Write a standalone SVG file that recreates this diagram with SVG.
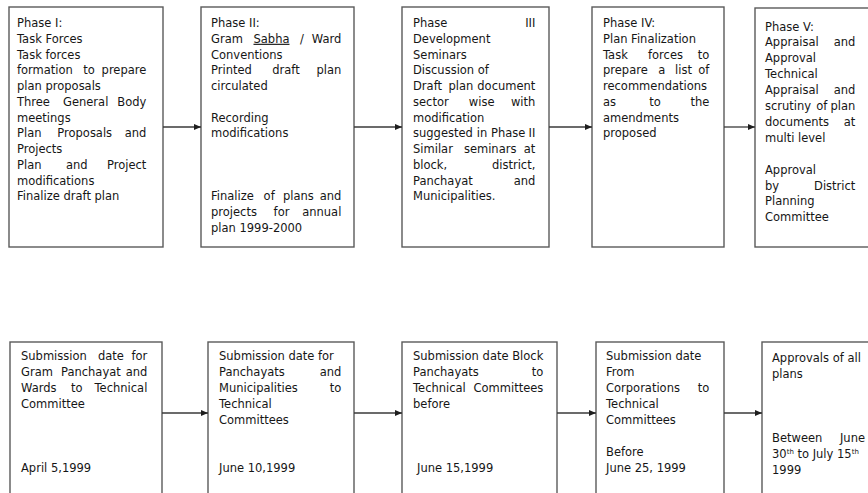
<svg xmlns="http://www.w3.org/2000/svg" width="868" height="493" viewBox="0 0 868 493">
  <style>
    .box { fill: #ffffff; stroke: #5a5a5a; stroke-width: 1.4; }
    .t { font-family: "DejaVu Sans", Verdana, sans-serif; font-size: 11.5px; fill: #161616; }
    .e { text-anchor: end; }
    .u { text-decoration: underline; }
    .sup { font-size: 7px; }
    .conn { stroke: #3a3a3a; stroke-width: 1.3; fill: none; marker-end: url(#arrow); }
  </style>
  <defs>
    <marker id="arrow" markerUnits="userSpaceOnUse" markerWidth="8" markerHeight="8" refX="7" refY="4" orient="auto">
      <path d="M0,1 L7,4 L0,7 Z" fill="#1e1e1e"/>
    </marker>
  </defs>
  <rect width="868" height="493" fill="#ffffff"/>

  <!-- Upper row: planning phases -->
  <g id="phase1">
    <rect class="box" x="9" y="7" width="154" height="240"/>
    <text class="t">
      <tspan x="17" y="27">Phase I:</tspan>
      <tspan x="17" y="42.75">Task Forces</tspan>
      <tspan x="17" y="58.5">Task forces</tspan>
      <tspan x="17" y="74.25">formation</tspan><tspan x="83.2" y="74.25">to</tspan><tspan class="e" x="150" y="74.25">prepare</tspan>
      <tspan x="17" y="90">plan proposals</tspan>
      <tspan x="17" y="105.75">Three</tspan><tspan x="63" y="105.75">General</tspan><tspan class="e" x="150" y="105.75">Body</tspan>
      <tspan x="17" y="121.5">meetings</tspan>
      <tspan x="17" y="137.25">Plan</tspan><tspan x="57.3" y="137.25">Proposals</tspan><tspan class="e" x="150" y="137.25">and</tspan>
      <tspan x="17" y="153">Projects</tspan>
      <tspan x="17" y="168.75">Plan</tspan><tspan x="66" y="168.75">and</tspan><tspan class="e" x="150" y="168.75">Project</tspan>
      <tspan x="17" y="184.5">modifications</tspan>
      <tspan x="17" y="200.25">Finalize draft plan</tspan>
    </text>
  </g>

  <g id="phase2">
    <rect class="box" x="201" y="7" width="153" height="240"/>
    <text class="t">
      <tspan x="211" y="27">Phase II:</tspan>
      <tspan x="211" y="42.75">Gram</tspan><tspan class="u" x="253.5" y="42.75">Sabha</tspan><tspan x="300" y="42.75">/</tspan><tspan class="e" x="345" y="42.75">Ward</tspan>
      <tspan x="211" y="58.5">Conventions</tspan>
      <tspan x="211" y="74.25">Printed</tspan><tspan x="272.3" y="74.25">draft</tspan><tspan class="e" x="345" y="74.25">plan</tspan>
      <tspan x="211" y="90">circulated</tspan>
      <tspan x="211" y="121.5">Recording</tspan>
      <tspan x="211" y="137.25">modifications</tspan>
      <tspan x="211" y="200.25">Finalize</tspan><tspan x="263.6" y="200.25">of</tspan><tspan x="283" y="200.25">plans</tspan><tspan class="e" x="345" y="200.25">and</tspan>
      <tspan x="211" y="216">projects</tspan><tspan x="273.6" y="216">for</tspan><tspan class="e" x="345" y="216">annual</tspan>
      <tspan x="211" y="231.75">plan 1999-2000</tspan>
    </text>
  </g>

  <g id="phase3">
    <rect class="box" x="402" y="7" width="147" height="240"/>
    <text class="t">
      <tspan x="413" y="27">Phase</tspan><tspan class="e" x="539" y="27">III</tspan>
      <tspan x="413" y="42.75">Development</tspan>
      <tspan x="413" y="58.5">Seminars</tspan>
      <tspan x="413" y="74.25">Discussion of</tspan>
      <tspan x="413" y="90">Draft</tspan><tspan x="448.5" y="90">plan</tspan><tspan class="e" x="539" y="90">document</tspan>
      <tspan x="413" y="105.75">sector</tspan><tspan x="468.8" y="105.75">wise</tspan><tspan class="e" x="539" y="105.75">with</tspan>
      <tspan x="413" y="121.5">modification</tspan>
      <tspan x="413" y="137.25">suggested</tspan><tspan x="476.8" y="137.25">in</tspan><tspan x="491" y="137.25">Phase</tspan><tspan class="e" x="539" y="137.25">II</tspan>
      <tspan x="413" y="153">Similar</tspan><tspan x="463.9" y="153">seminars</tspan><tspan class="e" x="539" y="153">at</tspan>
      <tspan x="413" y="168.75">block,</tspan><tspan class="e" x="539" y="168.75">district,</tspan>
      <tspan x="413" y="184.5">Panchayat</tspan><tspan class="e" x="539" y="184.5">and</tspan>
      <tspan x="413" y="200.25">Municipalities.</tspan>
    </text>
  </g>

  <g id="phase4">
    <rect class="box" x="592" y="7" width="132" height="240"/>
    <text class="t">
      <tspan x="603" y="27">Phase IV:</tspan>
      <tspan x="603" y="42.75">Plan Finalization</tspan>
      <tspan x="603" y="58.5">Task</tspan><tspan x="648" y="58.5">forces</tspan><tspan class="e" x="713" y="58.5">to</tspan>
      <tspan x="603" y="74.25">prepare</tspan><tspan x="658.2" y="74.25">a</tspan><tspan x="675.1" y="74.25">list</tspan><tspan class="e" x="713" y="74.25">of</tspan>
      <tspan x="603" y="90">recommendations</tspan>
      <tspan x="603" y="105.75">as</tspan><tspan x="649.3" y="105.75">to</tspan><tspan class="e" x="713" y="105.75">the</tspan>
      <tspan x="603" y="121.5">amendments</tspan>
      <tspan x="603" y="137.25">proposed</tspan>
    </text>
  </g>

  <g id="phase5">
    <rect class="box" x="755" y="8" width="130" height="239"/>
    <text class="t">
      <tspan x="765" y="30.5">Phase V:</tspan>
      <tspan x="765" y="46.4">Appraisal</tspan><tspan class="e" x="859" y="46.4">and</tspan>
      <tspan x="765" y="62.3">Approval</tspan>
      <tspan x="765" y="78.2">Technical</tspan>
      <tspan x="765" y="94.1">Appraisal</tspan><tspan class="e" x="859" y="94.1">and</tspan>
      <tspan x="765" y="110">scrutiny</tspan><tspan x="816.3" y="110">of</tspan><tspan class="e" x="859" y="110">plan</tspan>
      <tspan x="765" y="125.9">documents</tspan><tspan class="e" x="859" y="125.9">at</tspan>
      <tspan x="765" y="141.8">multi level</tspan>
      <tspan x="765" y="173.6">Approval</tspan>
      <tspan x="765" y="189.5">by</tspan><tspan class="e" x="859" y="189.5">District</tspan>
      <tspan x="765" y="205.4">Planning</tspan>
      <tspan x="765" y="221.3">Committee</tspan>
    </text>
  </g>

  <!-- Lower row: submission dates -->
  <g id="date1">
    <rect class="box" x="10" y="342" width="152" height="160"/>
    <text class="t">
      <tspan x="21" y="359.5">Submission</tspan><tspan x="98" y="359.5">date</tspan><tspan class="e" x="151" y="359.5">for</tspan>
      <tspan x="21" y="375.5">Gram</tspan><tspan x="61" y="375.5">Panchayat</tspan><tspan class="e" x="151" y="375.5">and</tspan>
      <tspan x="21" y="391.5">Wards</tspan><tspan x="71" y="391.5">to</tspan><tspan class="e" x="151" y="391.5">Technical</tspan>
      <tspan x="21" y="407.5">Committee</tspan>
      <tspan x="21" y="471.5">April 5,1999</tspan>
    </text>
  </g>

  <g id="date2">
    <rect class="box" x="208" y="342" width="146" height="160"/>
    <text class="t">
      <tspan x="219" y="359.5">Submission date for</tspan>
      <tspan x="219" y="375.5">Panchayats</tspan><tspan class="e" x="345" y="375.5">and</tspan>
      <tspan x="219" y="391.5">Municipalities</tspan><tspan class="e" x="345" y="391.5">to</tspan>
      <tspan x="219" y="407.5">Technical</tspan>
      <tspan x="219" y="423.5">Committees</tspan>
      <tspan x="219" y="471.5">June 10,1999</tspan>
    </text>
  </g>

  <g id="date3">
    <rect class="box" x="402" y="342" width="155" height="160"/>
    <text class="t">
      <tspan x="413" y="359.5">Submission</tspan><tspan x="482.6" y="359.5">date</tspan><tspan class="e" x="547" y="359.5">Block</tspan>
      <tspan x="413" y="375.5">Panchayats</tspan><tspan class="e" x="547" y="375.5">to</tspan>
      <tspan x="413" y="391.5">Technical</tspan><tspan class="e" x="547" y="391.5">Committees</tspan>
      <tspan x="413" y="407.5">before</tspan>
      <tspan x="417" y="471.5">June 15,1999</tspan>
    </text>
  </g>

  <g id="date4">
    <rect class="box" x="596" y="342" width="128" height="160"/>
    <text class="t">
      <tspan x="606" y="359.5">Submission date</tspan>
      <tspan x="606" y="375.5">From</tspan>
      <tspan x="606" y="391.5">Corporations</tspan><tspan class="e" x="713" y="391.5">to</tspan>
      <tspan x="606" y="407.5">Technical</tspan>
      <tspan x="606" y="423.5">Committees</tspan>
      <tspan x="606" y="455.5">Before</tspan>
      <tspan x="606" y="471.5">June 25, 1999</tspan>
    </text>
  </g>

  <g id="date5">
    <rect class="box" x="762" y="342" width="130" height="160"/>
    <text class="t">
      <tspan x="772" y="362">Approvals of all</tspan>
      <tspan x="772" y="378">plans</tspan>
      <tspan x="772" y="442">Between</tspan><tspan class="e" x="865" y="442">June</tspan>
    </text>
    <text class="t" x="772" y="458">30<tspan class="sup" dy="-4">th</tspan><tspan dy="4"> to July 15</tspan><tspan class="sup" dy="-4">th</tspan></text>
    <text class="t" x="772" y="474">1999</text>
  </g>

  <!-- Connectors -->
  <g id="connectors">
    <line class="conn" x1="163" y1="127" x2="201" y2="127"/>
    <line class="conn" x1="354" y1="127" x2="402" y2="127"/>
    <line class="conn" x1="549" y1="127" x2="592" y2="127"/>
    <line class="conn" x1="724" y1="127" x2="755" y2="127"/>
    <line class="conn" x1="162" y1="413" x2="208" y2="413"/>
    <line class="conn" x1="354" y1="413" x2="402" y2="413"/>
    <line class="conn" x1="557" y1="413" x2="596" y2="413"/>
    <line class="conn" x1="724" y1="413" x2="762" y2="413"/>
  </g>
</svg>
